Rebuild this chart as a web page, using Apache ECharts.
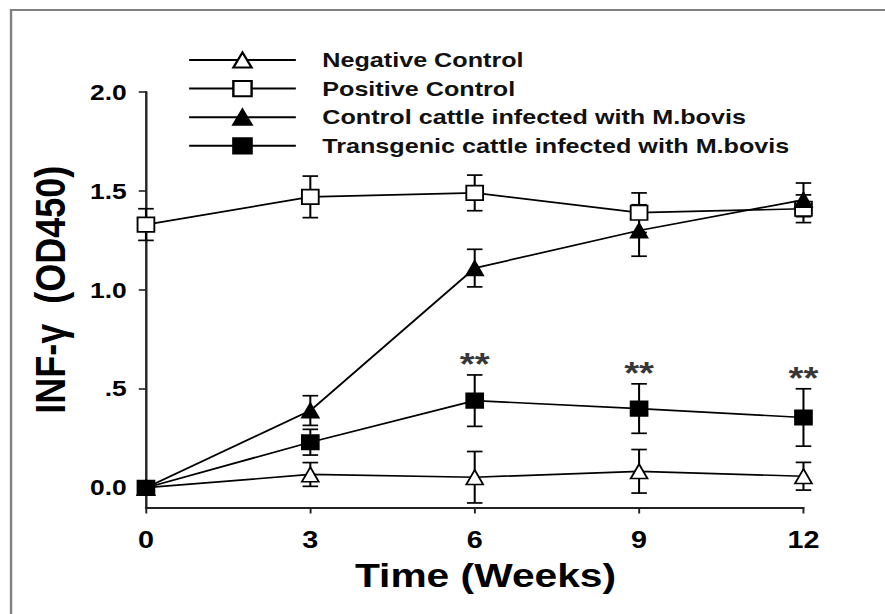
<!DOCTYPE html>
<html>
<head>
<meta charset="utf-8">
<script src="https://cdn.jsdelivr.net/npm/echarts@6/dist/echarts.min.js"></script>
<style>
  html, body { margin: 0; padding: 0; background: #fff; overflow: hidden; }
  /* the figure is drawn at a narrower width and widened to 885 px */
  #chart { width: 738px; height: 614px; transform: scaleX(1.1992); transform-origin: 0 0; }
</style>
</head>
<body>
<div id="chart"></div>
<script>
// Sampling times (weeks)
const weeks = [0, 3, 6, 9, 12];

// INF-γ OD450, means and error bars per group
const negMean = [0.0, 0.067, 0.053, 0.083, 0.058];
const negErr  = [0.0, 0.06, 0.13, 0.11, 0.07];

const posMean = [1.33, 1.47, 1.49, 1.39, 1.41];
const posErr  = [0.08, 0.105, 0.09, 0.10, 0.07];

const ctlMean = [0.0, 0.39, 1.11, 1.30, 1.455];
const ctlErr  = [0.0, 0.075, 0.095, 0.13, 0.085];

const tgMean  = [0.0, 0.23, 0.44, 0.40, 0.355];
const tgErr   = [0.0, 0.065, 0.13, 0.125, 0.145];

// Weeks where the transgenic group differs significantly (**)
const sigWeeks = [6, 9, 12];

// Axis ticks
const yTicks = [0, 0.5, 1.0, 1.5, 2.0];
const xTicks = [0, 3, 6, 9, 12];

const names = [
  'Negative Control',
  'Positive Control',
  'Control cattle infected with M.bovis',
  'Transgenic cattle infected with M.bovis'
];

const FONT = '"Liberation Sans", Arial, Helvetica, sans-serif';

function pairs(mean) { return weeks.map((w, i) => [w, mean[i]]); }
function bars(mean, err) { return weeks.map((w, i) => [w, mean[i] - err[i], mean[i] + err[i], err[i]]); }

function lineSeries(name, mean, symbol, fill) {
  return {
    name: name,
    type: 'line',
    data: pairs(mean),
    symbol: symbol,
    symbolSize: [14, 14.5],
    lineStyle: { color: '#000', width: 1.7 },
    itemStyle: { color: fill, borderColor: '#000', borderWidth: 1.6 },
    z: 3,
    silent: true
  };
}

function errorSeries(mean, err) {
  return {
    type: 'custom',
    data: bars(mean, err),
    encode: { x: 0, y: [1, 2] },
    z: 2,
    silent: true,
    renderItem: function (params, api) {
      if (api.value(3) === 0) return null;
      const x = api.value(0);
      const top = api.coord([x, api.value(2)]);
      const bot = api.coord([x, api.value(1)]);
      const hw = 6.5;
      const st = { stroke: '#000', lineWidth: 1.7 };
      return {
        type: 'group',
        children: [
          { type: 'line', shape: { x1: top[0], y1: top[1], x2: bot[0], y2: bot[1] }, style: st },
          { type: 'line', shape: { x1: top[0] - hw, y1: top[1], x2: top[0] + hw, y2: top[1] }, style: st },
          { type: 'line', shape: { x1: bot[0] - hw, y1: bot[1], x2: bot[0] + hw, y2: bot[1] }, style: st }
        ]
      };
    }
  };
}

const sigData = sigWeeks.map(w => {
  const i = weeks.indexOf(w);
  return [w, tgMean[i] + tgErr[i]];
});

const chart = echarts.init(document.getElementById('chart'), null, { renderer: 'svg' });

chart.setOption({
  animation: false,
  backgroundColor: '#fff',
  textStyle: { fontFamily: FONT },
  grid: {
    left: 121.7, right: 68, top: 92, bottom: 106.5,
    containLabel: false, outerBoundsMode: 'none'
  },
  legend: {
    data: names,
    orient: 'vertical',
    left: 156.7,
    top: 49.5,
    padding: 0,
    itemWidth: 89,
    itemHeight: 19,
    itemGap: 7.6,
    selectedMode: false,
    textStyle: {
      fontFamily: FONT, fontSize: 21, fontWeight: 'bold', color: '#111',
      padding: [0, 0, 0, 17]
    }
  },
  xAxis: {
    type: 'value',
    min: 0, max: 12, interval: 3,
    name: 'Time (Weeks)',
    nameLocation: 'middle',
    nameGap: 51,
    nameTextStyle: {
      fontFamily: FONT, fontSize: 34, fontWeight: 'bold', color: '#000',
      padding: [0, 0, 0, 18]
    },
    axisLine: { show: true, onZero: false, lineStyle: { color: '#222', width: 2 } },
    axisTick: { show: true, inside: false, length: 6, lineStyle: { color: '#222', width: 1.6 } },
    axisLabel: {
      customValues: xTicks,
      fontFamily: FONT, fontSize: 24, fontWeight: 'bold', color: '#000', margin: 20
    },
    splitLine: { show: false }
  },
  yAxis: {
    type: 'value',
    min: -0.1, max: 2.0,
    name: 'INF-γ  (OD450)',
    nameLocation: 'middle',
    nameRotate: 90,
    nameGap: 62,
    nameTextStyle: {
      fontFamily: FONT, fontSize: 36, fontWeight: 'bold', color: '#000',
      padding: [0, 0, 0, 20]
    },
    axisLine: { show: true, onZero: false, lineStyle: { color: '#222', width: 2 } },
    axisTick: { show: true, customValues: yTicks, length: 6, lineStyle: { color: '#222', width: 1.6 } },
    axisLabel: {
      customValues: yTicks,
      fontFamily: FONT, fontSize: 22, fontWeight: 'bold', color: '#000', margin: 16,
      formatter: v => (Math.abs(v - 0.5) < 1e-9 ? '.5' : v.toFixed(1))
    },
    splitLine: { show: false }
  },
  graphic: [{
    type: 'rect',
    shape: { x: 9.2, y: 10, width: 900, height: 700 },
    style: { fill: 'none', stroke: '#808080', lineWidth: 2 },
    silent: true,
    z: -10
  }],
  series: [
    errorSeries(negMean, negErr),
    errorSeries(posMean, posErr),
    errorSeries(ctlMean, ctlErr),
    errorSeries(tgMean, tgErr),
    lineSeries(names[0], negMean, 'triangle', '#fff'),
    lineSeries(names[1], posMean, 'rect', '#fff'),
    lineSeries(names[2], ctlMean, 'triangle', '#000'),
    lineSeries(names[3], tgMean, 'rect', '#000'),
    {
      type: 'scatter',
      data: sigData,
      symbolSize: 0,
      silent: true,
      z: 4,
      label: {
        show: true, position: 'top', distance: -5,
        formatter: '**',
        fontFamily: FONT, fontSize: 32, fontWeight: 'bold', color: '#000'
      }
    }
  ]
});
</script>
</body>
</html>
